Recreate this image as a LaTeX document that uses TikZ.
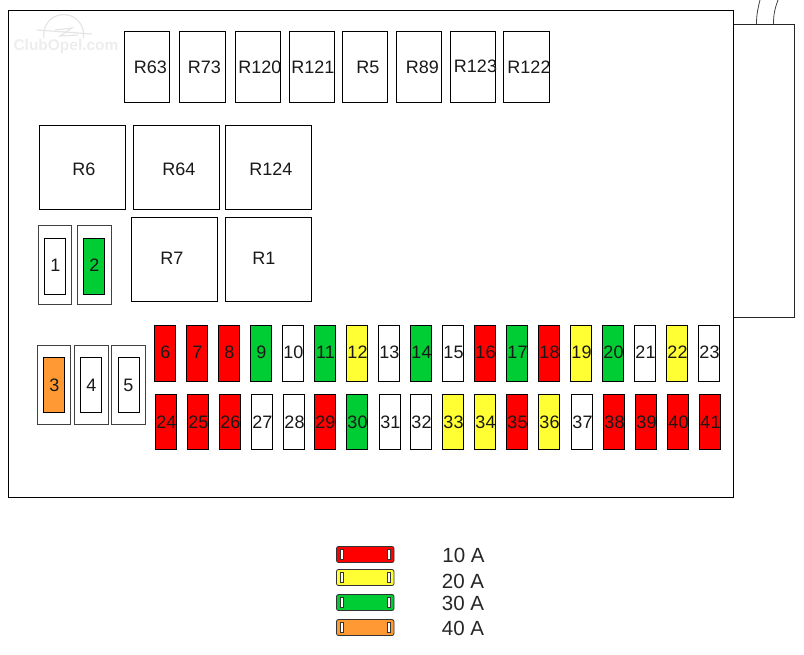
\documentclass[tikz,border=0pt]{standalone}
\usepackage{fontspec}
\setmainfont{Liberation Sans}
\definecolor{fred}{RGB}{255,0,0}
\definecolor{fyellow}{RGB}{255,255,51}
\definecolor{fgreen}{RGB}{0,204,51}
\definecolor{forange}{RGB}{255,153,51}
\tikzset{
  lbl/.style={font=\fontsize{13.5pt}{15pt}\selectfont,inner sep=0pt,text=black!90},
  nudge/.style={outer sep=0pt},
  boxshape/.style={draw=black,line width=0.75pt,inner sep=0pt,anchor=north west,nudge},
  holder/.style={draw=black!75,line width=0.6pt,inner sep=0pt,anchor=north west,nudge},
  legendfuse/.style={draw=black!80,line width=0.6pt,rounded corners=1.5pt,inner sep=0pt,anchor=north west,nudge,minimum width=57.5*0.75pt,minimum height=16*0.75pt},
  slot/.style={draw=black!80,fill=white,line width=0.5pt,inner sep=0pt,minimum width=2.8*0.75pt,minimum height=10.5*0.75pt,nudge},
  wm/.style={font=\bfseries\fontsize{11.6pt}{12pt}\selectfont,text=black!7,inner sep=0pt},
  wmline/.style={draw=black!10,line width=0.9pt}
}
% name, x0, y0, x1, y1, fill, label x, label y, text
\newcommand{\cellbox}[9]{%
  \node[boxshape,fill=#6,minimum width=(#4-#2)*0.75pt,minimum height=(#5-#3)*0.75pt] (#1) at (#2,#3) {};
  \node[lbl] (#1t) at (#7,#8) {#9};}
\newcommand{\holderbox}[5]{%
  \node[holder,minimum width=(#4-#2)*0.75pt,minimum height=(#5-#3)*0.75pt] (#1) at (#2,#3) {};}
\newcommand{\legendrow}[6]{%
  \node[legendfuse,fill=#4] (#1) at (336.5,#2) {};
  \node[slot] (#1a) at (341.5,#2+8) {};
  \node[slot] (#1b) at (388.5,#2+8) {};
  \node[lbl,font=\fontsize{15.4pt}{17pt}\selectfont,text=black!85] (#1t) at (#5,#6) {#3};}
\begin{document}
\begin{tikzpicture}[x=0.75pt,y=-0.75pt]
\useasboundingbox (0,0) rectangle (804,654);
% watermark
\draw[wmline] (44,38) arc[start angle=-190,end angle=10,radius=20];
\draw[wmline] (37,30) -- (92,34);
\draw[wmline] (55,30) -- (72,28) -- (60,36) -- (78,35);
\node[wm] (wmtext) at (66,46) {ClubOpel.com};
% connector housing
\draw[line width=0.75pt,draw=black!85] (733,24) -- (794.5,24) -- (794.5,317.5) -- (733,317.5);
\draw[line width=0.6pt,draw=black!75] (756.5,24) .. controls (756.5,14) and (758,8) .. (760,0);
\draw[line width=0.6pt,draw=black!75] (773.5,24) .. controls (773.5,14) and (775,8) .. (778,0);
% main case
\node[boxshape,line width=0.85pt,minimum width=725*0.75pt,minimum height=487*0.75pt] (case) at (8.5,10.5) {};
% small relays
\cellbox{r63}{124.5}{31.5}{169.5}{102.5}{white}{150.5}{67}{R63}
\cellbox{r73}{179.5}{31.5}{225.5}{102.5}{white}{204.5}{67}{R73}
\cellbox{r120}{235.5}{31.5}{280.5}{102.5}{white}{260}{67}{R120}
\cellbox{r121}{289.5}{31.5}{334.5}{102.5}{white}{313}{67}{R121}
\cellbox{r5}{342.5}{31.5}{387.5}{102.5}{white}{368}{67}{R5}
\cellbox{r89}{396.5}{31.5}{441.5}{102.5}{white}{422.5}{67}{R89}
\cellbox{r123}{450.5}{31.5}{495.5}{102.5}{white}{475.5}{66}{R123}
\cellbox{r122}{503.5}{31.5}{549.5}{102.5}{white}{529}{67}{R122}
% large relays
\cellbox{r6}{39.5}{125.5}{125.5}{209.5}{white}{84}{169}{R6}
\cellbox{r64}{133.5}{125.5}{219.5}{209.5}{white}{179}{169}{R64}
\cellbox{r124}{225.5}{125.5}{311.5}{209.5}{white}{271}{169}{R124}
\cellbox{r7}{131.5}{217.5}{217.5}{301.5}{white}{172}{258}{R7}
\cellbox{r1}{225.5}{217.5}{311.5}{301.5}{white}{264}{258}{R1}
% holders
\holderbox{h1}{38.5}{225.5}{71.5}{304.5}
\holderbox{h2}{77.5}{225.5}{111.5}{304.5}
\holderbox{h3}{37.5}{345.5}{70.5}{424.5}
\holderbox{h4}{74.5}{345.5}{108.5}{424.5}
\holderbox{h5}{111.5}{345.5}{145.5}{424.5}
\cellbox{f1}{44.5}{238.5}{65.5}{294.5}{white}{55.5}{265}{1}
\cellbox{f2}{83.5}{238.5}{104.5}{294.5}{fgreen}{94.5}{265}{2}
\cellbox{f3}{43.5}{357.5}{64.5}{412.5}{forange}{54.5}{385}{3}
\cellbox{f4}{80.5}{357.5}{101.5}{412.5}{white}{91.5}{385}{4}
\cellbox{f5}{118.5}{357.5}{139.5}{412.5}{white}{128.5}{385}{5}
% top fuse row
\foreach \n/\xa/\c in {6/154.5/fred,7/186.5/fred,8/218.5/fred,9/250.5/fgreen,10/282.5/white,11/314.5/fgreen,12/346.5/fyellow,13/378.5/white,14/410.5/fgreen,15/442.5/white,16/474.5/fred,17/506.5/fgreen,18/538.5/fred,19/570.5/fyellow,20/602.5/fgreen,21/634.5/white,22/666.5/fyellow,23/698.5/white}{
  \pgfmathsetmacro{\xb}{\xa+21}
  \pgfmathsetmacro{\xt}{\xa+11}
  \cellbox{f\n}{\xa}{325.5}{\xb}{381.5}{\c}{\xt}{352}{\n}
}
% bottom fuse row
\foreach \n/\xa/\c in {24/155.5/fred,25/187.5/fred,26/219.5/fred,27/251.5/white,28/283.5/white,29/314.5/fred,30/346.5/fgreen,31/379.5/white,32/410.5/white,33/442.5/fyellow,34/474.5/fyellow,35/506.5/fred,36/538.5/fyellow,37/571.5/white,38/603.5/fred,39/635.5/fred,40/667.5/fred,41/699.5/fred}{
  \pgfmathsetmacro{\xb}{\xa+21}
  \pgfmathsetmacro{\xt}{\xa+11}
  \cellbox{f\n}{\xa}{394.5}{\xb}{449.5}{\c}{\xt}{422}{\n}
}
% legend
\legendrow{la}{546.5}{10 A}{fred}{463.5}{555}
\legendrow{lb}{569.5}{20 A}{fyellow}{463}{581}
\legendrow{lc}{594.5}{30 A}{fgreen}{463}{603}
\legendrow{ld}{619.5}{40 A}{forange}{463}{628}
\end{tikzpicture}
\end{document}
